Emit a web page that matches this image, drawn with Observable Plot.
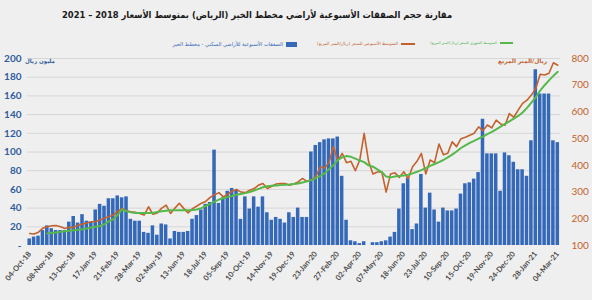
<!DOCTYPE html>
<html><head><meta charset="utf-8">
<script src="https://cdn.jsdelivr.net/npm/d3@7"></script>
<script src="https://cdn.jsdelivr.net/npm/@observablehq/plot@0.6"></script>
<style>
body{margin:0;background:#efefef;}
#wrap{position:relative;width:592px;height:300px;overflow:hidden;background:#efefef;}
#title{position:absolute;left:62px;top:9px;font:bold 12px "DejaVu Sans Condensed","DejaVu Sans";color:#1a1a1a;direction:rtl;white-space:nowrap}
.leg{position:absolute;top:41px;font:7px "DejaVu Sans";direction:rtl;white-space:nowrap;display:flex;align-items:center;gap:3px}
.sw{display:inline-block}
.unit{position:absolute;top:58px;font:bold 8px "DejaVu Sans";direction:rtl;white-space:nowrap}
#chart{position:absolute;left:0;top:0}
</style></head>
<body><div id="wrap">
<div id="chart"></div>
<div id="title"></div>
<div class="leg" id="legG" style="right:79px;color:#4caf50"><span class="sw" style="width:13px;height:2px;background:#55b94a"></span><span class="tx"></span></div>
<div class="leg" id="legO" style="right:177px;color:#c4622d"><span class="sw" style="width:14px;height:2px;background:#c4622d"></span><span class="tx"></span></div>
<div class="leg" id="legB" style="right:295px;color:#3468b8"><span class="sw" style="width:11px;height:5px;background:#3468b8"></span><span class="tx"></span></div>
<div class="unit" id="unitL" style="left:25px;color:#2f5c9e"></div>
<div class="unit" id="unitR" style="right:45px;color:#c4622d"></div>
</div>
<script>
const titleText = "مقارنة حجم الصفقات الأسبوعية لأراضي مخطط الخير (الرياض) بمتوسط الأسعار 2018 – 2021";
const seriesNames = ["الصفقات الأسبوعية للأراضي السكني - مخطط الخير", "المتوسط الأسبوعي للسعر (ريال/المتر المربع)", "المتوسط الشهري للسعر (ريال/المتر المربع)"];
const leftUnit = "مليون ريال";
const rightUnit = "ريال/المتر المربع";

const tickLabels = ["04-Oct-18","08-Nov-18","13-Dec-18","17-Jan-19","21-Feb-19","28-Mar-19","02-May-19","13-Jun-19","18-Jul-19","05-Sep-19","10-Oct-19","14-Nov-19","19-Dec-19","23-Jan-20","27-Feb-20","02-Apr-20","07-May-20","18-Jun-20","23-Jul-20","10-Sep-20","15-Oct-20","19-Nov-20","24-Dec-20","28-Jan-21","04-Mar-21"];

// weekly deals (million SAR)
const bars = [7,9,10,16,21,18,16,16,16,25,
 31,24,33,26,25,38,44,42,50,50,
 53,51,52,28,26,26,14,13,21,11,
 23,22,7,15,14,14,15,28,32,38,
 44,46,102,45,51,58,61,59,28,52,
 39,52,41,52,35,27,30,28,24,35,
 30,40,30,30,100,107,110,113,114,114,
 116,74,27,5,4,2,4,0,3,3,
 4,5,9,14,39,66,72,17,23,76,
 40,56,38,25,40,37,37,39,55,66,
 67,71,78,135,98,98,98,58,99,96,
 89,81,81,74,112,188,162,162,162,112,
 110];

// weekly average price (SAR / m2)
const weekly = [145,143,150,165,170,174,175,170,164,168,
 168,176,180,184,189,190,195,203,208,214,
 228,239,230,226,224,220,214,245,217,222,
 240,251,220,240,258,239,222,238,248,258,
 265,280,290,298,282,292,303,310,300,298,
 307,313,326,332,313,322,330,332,332,326,
 330,338,351,340,345,357,394,390,410,470,
 417,445,410,415,380,420,520,415,368,375,
 376,300,368,372,355,376,350,395,415,445,
 368,420,410,480,440,445,488,470,500,505,
 513,520,544,530,551,540,569,555,550,594,
 580,607,632,644,663,688,741,738,745,784,
 775];

// monthly average price (SAR / m2)
const monthly = [null,null,null,null,145,147,149,151,153,155,
 157,159,161,164,167,170,173,180,190,198,
 215,235,228,224,222,222,222,222,222,225,
 228,230,232,232,232,232,232,233,235,240,
 248,256,264,272,277,282,285,290,293,296,
 300,306,312,318,322,324,325,326,327,328,
 330,332,336,340,345,352,360,370,385,400,
 420,430,435,432,425,418,412,400,395,385,
 375,358,355,358,360,362,365,370,376,382,
 390,398,405,412,420,430,440,452,465,475,
 484,492,500,508,517,525,535,545,555,565,
 575,585,598,615,635,655,680,700,718,735,
 750];

const leftTicks = [0,20,40,60,80,100,120,140,160,180,200];
const rightTicks = [100,200,300,400,500,600,700,800];

function fit(el, target) {
  const fs = parseFloat(getComputedStyle(el).fontSize);
  const w = el.getBoundingClientRect().width;
  if (w > 0) el.style.fontSize = (fs * target / w).toFixed(2) + "px";
}

const n = bars.length;
const idx = d3.range(n);
const toLeft = p => (p - 100) / 3.5;   // right axis 100..800 maps onto left 0..200
const fromLeft = v => Math.round(v * 3.5 + 100);

const chart = Plot.plot({
  width: 592, height: 300,
  marginTop: 58, marginBottom: 55, marginLeft: 27, marginRight: 32,
  style: {background: "transparent", fontFamily: "Lato", overflow: "visible"},
  x: {type: "band", domain: idx, paddingInner: 0.2, paddingOuter: 0.1, range: [27, 559.5]},
  y: {domain: [0, 200]},
  marks: [
    Plot.ruleY(leftTicks.slice(1), {stroke: "#d6d6d6", strokeWidth: 1}),
    Plot.barY(idx, {x: i => i, y: i => bars[i], fill: "#3468b8"}),
    Plot.line(idx, {x: i => i, y: i => toLeft(weekly[i]), stroke: "#c4622d", strokeWidth: 1.6}),
    Plot.line(idx.filter(i => monthly[i] != null), {x: i => i, y: i => toLeft(monthly[i]), stroke: "#55b94a", strokeWidth: 2}),
    Plot.axisY(leftTicks, {anchor: "left", tickSize: 0, tickPadding: 6, tickFormat: d => d === 0 ? "-" : d, color: "#2f5c9e", fontWeight: "bold", fontSize: 10}),
    Plot.axisY(rightTicks.map(toLeft), {anchor: "right", tickSize: 0, tickPadding: 11, tickFormat: fromLeft, color: "#c4622d", fontSize: 10}),
    Plot.axisX(d3.range(0, n, 5), {tickSize: 0, tickRotate: -50, tickPadding: 7, tickFormat: i => tickLabels[i / 5], fontSize: 7.5, fontWeight: "bold", color: "#4a4a4a"})
  ]
});
document.getElementById("chart").appendChild(chart);

const t = document.getElementById("title");
t.textContent = titleText;
fit(t, 390);
const legs = [["legB", 0, 111], ["legO", 1, 81], ["legG", 2, 67]];
for (const [id, k, w] of legs) {
  const s = document.querySelector("#" + id + " .tx");
  s.textContent = seriesNames[k];
  fit(s, w);
}
const uL = document.getElementById("unitL"); uL.textContent = leftUnit; fit(uL, 30);
const uR = document.getElementById("unitR"); uR.textContent = rightUnit; fit(uR, 49);
</script>
</body></html>
